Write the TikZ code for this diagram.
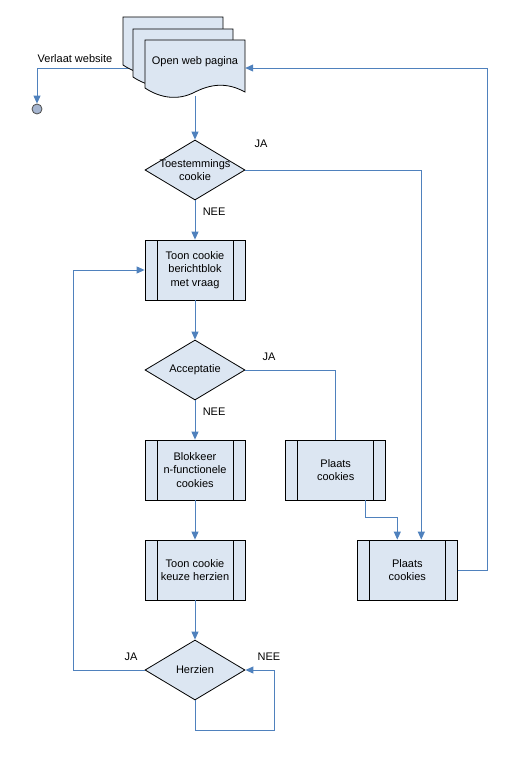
\documentclass[tikz,border=0pt]{standalone}
\usepackage{fontspec}
\setmainfont{Liberation Sans}
\usetikzlibrary{arrows.meta,shapes.geometric,calc,positioning}
\definecolor{boxfill}{RGB}{220,230,242}
\definecolor{flowline}{RGB}{79,129,189}
\definecolor{endfill}{RGB}{165,181,208}

\begin{document}
\begin{tikzpicture}[x=1pt,y=-1pt,font=\fontsize{11}{13.5}\selectfont,
    process/.style={draw=black,line width=0.8pt,fill=boxfill,
      minimum width=100pt,minimum height=60pt,align=center,inner sep=2pt,
      path picture={\draw[line width=0.8pt]
        ([xshift=12pt]path picture bounding box.north west) -- ([xshift=12pt]path picture bounding box.south west)
        ([xshift=-12pt]path picture bounding box.north east) -- ([xshift=-12pt]path picture bounding box.south east);}},
    decision/.style={diamond,aspect=1.667,draw=black,line width=0.8pt,fill=boxfill,
      minimum width=100pt,minimum height=60pt,inner sep=-3pt,align=center},
    flow/.style={draw=flowline,line width=0.9pt},
    arr/.style={flow,-{Triangle[width=7pt,length=8pt]}}]
    \useasboundingbox (0,0) rectangle (531,768);

    % web pages
    \node[minimum width=100pt,minimum height=56pt] (open) at (195,68) {};
    \node[circle,draw=black!70,line width=0.8pt,fill=endfill,minimum size=10pt,inner sep=0pt] (leave) at (37,109) {};
    \draw[arr] (open.west) -| (leave.north);
    \foreach \dx/\dy in {-22/-23,-12/-11,0/0}
      \draw[line width=0.8pt,fill=boxfill,shift={(\dx,\dy)}] (145,40) -- (245,40) -- (245,92)
        .. controls (230,84) and (215,82) .. (195,92)
        .. controls (178,101) and (160,98) .. (145,88) -- cycle;
    \node (opentext) at (195,62) {Open web pagina};
    \node (leavetext) at (75,59) {Verlaat website};

    \node[decision] (consent) at (195,170) {Toestemmings\\cookie};
    \node[process] (banner) at (195,270) {Toon cookie\\berichtblok\\met vraag};
    \node[decision] (accept) at (195,370) {Acceptatie};
    \node[process] (block) at (195,470) {Blokkeer\\n-functionele\\cookies};
    \node[process] (place1) at (335.7,470) {Plaats\\cookies};
    \node[process] (review) at (195,570) {Toon cookie\\keuze herzien};
    \node[process] (place2) at (407.3,570) {Plaats\\cookies};
    \node[decision] (revise) at (195,670) {Herzien};

    % connectors
    \draw[arr] (open.south) -- (consent.north);
    \draw[arr] (consent.south) -- node[right=4pt,pos=0.3] {NEE} (banner.north);
    \draw[arr] (consent.east) -| ([xshift=14pt]place2.north);
    \node (yes1) at (261,144) {JA};
    \draw[arr] (banner.south) -- (accept.north);
    \draw[arr] (accept.south) -- node[right=4pt,pos=0.3] {NEE} (block.north);
    \draw[flow] (accept.east) -| (place1.north);
    \node (yes2) at (269,357) {JA};
    \draw[arr] ([xshift=30pt]place1.south) -- ++(0,17) -| ([xshift=-10pt]place2.north);
    \draw[arr] (block.south) -- (review.north);
    \draw[arr] (review.south) -- (revise.north);
    \draw[arr] (revise.west) -- ++(-71,0) |- (banner.west);
    \node (yes3) at (131,657) {JA};
    \draw[arr] (revise.south) -- ++(0,30) -| ([xshift=29pt]revise.east) -- (revise.east);
    \node (no3) at (269,657) {NEE};
    \draw[arr] (place2.east) -- ++(30,0) |- (open.east);
\end{tikzpicture}
\end{document}
